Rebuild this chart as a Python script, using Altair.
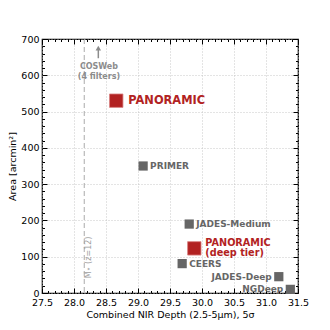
import altair as alt
import pandas as pd

# ---- data ----
names = ["PANORAMIC", "PANORAMIC\n(deep tier)", "PRIMER", "JADES-Medium", "CEERS", "JADES-Deep", "NGDeep"]
depth = [28.66, 29.88, 29.08, 29.8, 29.69, 31.2, 31.38]
area = [530, 123, 350, 190, 81, 45, 10]
group = ["main", "deep", "gray_l", "gray_l", "gray_l", "gray_r", "gray_r"]

x_major = [27.5, 28.0, 28.5, 29.0, 29.5, 30.0, 30.5, 31.0, 31.5]
x_minor = [27.6, 27.7, 27.8, 27.9, 28.1, 28.2, 28.3, 28.4, 28.6, 28.7, 28.8, 28.9,
           29.1, 29.2, 29.3, 29.4, 29.6, 29.7, 29.8, 29.9, 30.1, 30.2, 30.3, 30.4,
           30.6, 30.7, 30.8, 30.9, 31.1, 31.2, 31.3, 31.4]
y_major = [0, 100, 200, 300, 400, 500, 600, 700]
y_minor = [20, 40, 60, 80, 120, 140, 160, 180, 220, 240, 260, 280, 320, 340, 360, 380,
           420, 440, 460, 480, 520, 540, 560, 580, 620, 640, 660, 680]

mstar_x = [28.16]
mstar_label = ["M\u22c6 (z=12)"]
mstar_label_x = [28.24]
mstar_label_y = [98]

cosweb_x = [28.38]
cosweb_arrow_y = [647]
cosweb_arrow_y2 = [672]
cosweb_head_y = [675]
cosweb_label = ["COSWeb\n(4 filters)"]
cosweb_label_x = [28.39]
cosweb_label_y = [624]

W, H = 256, 254
RED = "#b22222"
GRAY = "#666666"
LGRAY = "#8c8c8c"
FONT = "DejaVu Sans"

df = pd.DataFrame({"name": names, "depth": depth, "area": area, "group": group})

xs = alt.Scale(domain=[27.5, 31.5], nice=False, zero=False)
ys = alt.Scale(domain=[0, 700], nice=False)
XT = "Combined NIR Depth (2.5-5\u03bcm), 5\u03c3"
YT = "Area [arcmin\u00b2]"

main_xaxis = alt.Axis(orient="bottom", values=x_major, format=".1f", ticks=False, domain=False,
                      grid=True, gridDash=[1, 2], gridColor="#bbbbbb", gridWidth=0.8,
                      labelFont=FONT, labelFontSize=9.5, labelColor="black", labelPadding=4,
                      title=XT, titleFont=FONT, titleFontSize=9.5, titleFontWeight="normal",
                      titleColor="black", titlePadding=3, labelFlush=False)
main_yaxis = alt.Axis(orient="left", values=y_major, format="d", ticks=False, domain=False,
                      grid=True, gridDash=[1, 2], gridColor="#bbbbbb", gridWidth=0.8,
                      labelFont=FONT, labelFontSize=9.5, labelColor="black", labelPadding=3,
                      title=YT, titleFont=FONT, titleFontSize=9.5, titleFontWeight="normal",
                      titleColor="black", titlePadding=3, labelFlush=False)


def tick_axis(orient, offset, vals, size):
    return alt.Axis(orient=orient, offset=offset, values=vals, labels=False, domain=False,
                    grid=False, ticks=True, tickSize=size, tickColor="black", tickWidth=1,
                    title="")


def tick_layer(xorient, yorient, xv, yv, size):
    return alt.Chart(df).mark_point(opacity=0).encode(
        x=alt.X("depth:Q", scale=xs, axis=tick_axis(xorient, -H, xv, size)),
        y=alt.Y("area:Q", scale=ys, axis=tick_axis(yorient, -W, yv, size)),
    )


ticks = [
    tick_layer("top", "right", x_major, y_major, 5),
    tick_layer("bottom", "left", x_major, y_major, 5),
    tick_layer("top", "right", x_minor, y_minor, 2.5),
    tick_layer("bottom", "left", x_minor, y_minor, 2.5),
]

base = alt.Chart(df).encode(
    x=alt.X("depth:Q", scale=xs, axis=None),
    y=alt.Y("area:Q", scale=ys, axis=None),
)

axes_layer = alt.Chart(df).mark_point(opacity=0).encode(
    x=alt.X("depth:Q", scale=xs, axis=main_xaxis),
    y=alt.Y("area:Q", scale=ys, axis=main_yaxis),
)

vline = alt.Chart(pd.DataFrame({"x": mstar_x})).mark_rule(
    color="#aaaaaa", strokeDash=[5, 3], strokeWidth=1
).encode(x=alt.X("x:Q", scale=xs, axis=None))

vlabel = alt.Chart(pd.DataFrame({"x": mstar_label_x, "y": mstar_label_y, "t": mstar_label})).mark_text(
    angle=270, color="#a0a0a0", font=FONT, fontSize=8, align="center", baseline="middle"
).encode(x=alt.X("x:Q", scale=xs, axis=None), y=alt.Y("y:Q", scale=ys, axis=None), text="t:N")

arrow_df = pd.DataFrame({"x": cosweb_x, "y": cosweb_arrow_y, "y2": cosweb_arrow_y2, "hy": cosweb_head_y})
arrow = alt.Chart(arrow_df).mark_rule(color=LGRAY, strokeWidth=1.5).encode(
    x=alt.X("x:Q", scale=xs, axis=None), y=alt.Y("y:Q", scale=ys, axis=None), y2="y2:Q")
head = alt.Chart(arrow_df).mark_point(shape="triangle-up", filled=True, color=LGRAY, size=30, opacity=1).encode(
    x=alt.X("x:Q", scale=xs, axis=None), y=alt.Y("hy:Q", scale=ys, axis=None))
cos_label = alt.Chart(pd.DataFrame({"x": cosweb_label_x, "y": cosweb_label_y, "t": cosweb_label})).mark_text(
    color=LGRAY, font=FONT, fontSize=8, fontWeight="bold", align="center", baseline="middle",
    lineBreak="\n", lineHeight=10.5
).encode(x=alt.X("x:Q", scale=xs, axis=None), y=alt.Y("y:Q", scale=ys, axis=None), text="t:N")

pts_red = base.transform_filter("datum.group == 'main' || datum.group == 'deep'").mark_square(
    color=RED, size=180, opacity=1, stroke="#d88080", strokeWidth=0.8)
pts_gray = base.transform_filter("datum.group != 'main' && datum.group != 'deep'").mark_square(
    color=GRAY, size=85, opacity=1)

lab_main = base.transform_filter("datum.group == 'main'").mark_text(
    align="left", baseline="middle", dx=12, color=RED, font=FONT, fontSize=11.4, fontWeight="bold"
).encode(text="name:N")
lab_deep = base.transform_filter("datum.group == 'deep'").mark_text(
    align="left", baseline="middle", dx=11, dy=-5, color=RED, font=FONT, fontSize=9.7, fontWeight="bold",
    lineBreak="\n", lineHeight=9.5
).encode(text="name:N")
lab_gl = base.transform_filter("datum.group == 'gray_l'").mark_text(
    align="left", baseline="middle", dx=7, color=GRAY, font=FONT, fontSize=9, fontWeight="bold"
).encode(text="name:N")
lab_gr = base.transform_filter("datum.group == 'gray_r'").mark_text(
    align="right", baseline="middle", dx=-7, color=GRAY, font=FONT, fontSize=9, fontWeight="bold"
).encode(text="name:N")

chart = alt.layer(
    axes_layer, *ticks, vline, vlabel, arrow, head, cos_label,
    pts_red, pts_gray, lab_main, lab_deep, lab_gl, lab_gr
).resolve_axis(x="independent", y="independent").properties(
    width=W, height=H,
    autosize=alt.AutoSizeParams(type="none"),
    padding={"left": 34, "top": 31, "right": 14, "bottom": 28},
).configure_view(stroke="black", strokeWidth=1.2)

chart.save("out.html", embed_options={"renderer": "svg", "actions": False})
